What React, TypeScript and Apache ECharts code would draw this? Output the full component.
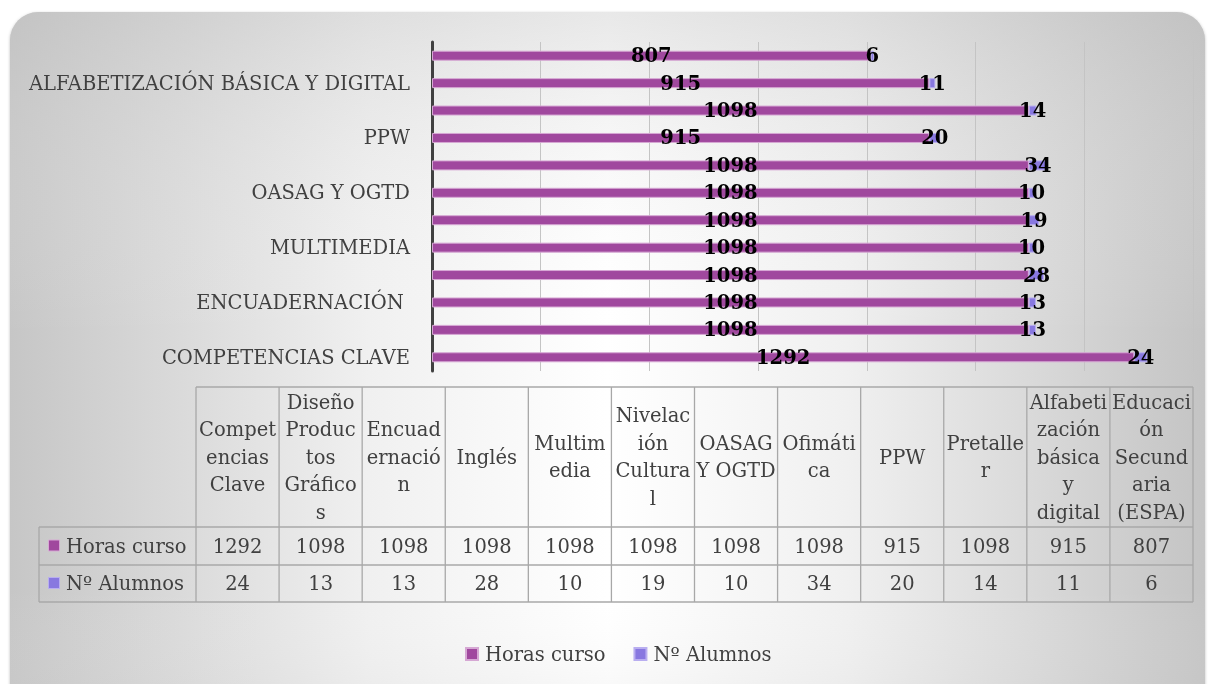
import React, { useEffect, useRef } from "react";
import * as echarts from "echarts";

// ---------- data ----------
const categories = [
  "Competencias Clave",
  "Diseño Productos Gráficos",
  "Encuadernación ",
  "Inglés",
  "Multimedia",
  "Nivelación Cultural",
  "OASAG Y OGTD",
  "Ofimática",
  "PPW",
  "Pretaller",
  "Alfabetización básica y digital",
  "Educación Secundaria (ESPA)",
];
// header labels of the data table, as wrapped in the picture
const tableHeaders = [
  "Compet\nencias\nClave",
  "Diseño\nProduc\ntos\nGráfico\ns",
  "Encuad\nernació\nn",
  "Inglés",
  "Multim\nedia",
  "Nivelac\nión\nCultura\nl",
  "OASAG\nY OGTD",
  "Ofimáti\nca",
  "PPW",
  "Pretalle\nr",
  "Alfabeti\nzación\nbásica\ny\ndigital",
  "Educaci\nón\nSecund\naria\n(ESPA)",
];
const horasCurso = [1292, 1098, 1098, 1098, 1098, 1098, 1098, 1098, 915, 1098, 915, 807];
const numAlumnos = [24, 13, 13, 28, 10, 19, 10, 34, 20, 14, 11, 6];
const seriesNames = ["Horas curso", "Nº Alumnos"];
const xMin = 0;
const xMax = 1400;
const xInterval = 200;

// ---------- style ----------
const FONT = '"DejaVu Serif", serif';
const TEXT = "#404040";
const C_HORAS = "#A0489E";
const C_HORAS_B = "#D6A8D4";
const C_ALUM = "#8878E0";
const C_ALUM_B = "#B9AEF0";
const FS = 19.5;

export default function App() {
  const ref = useRef<HTMLDivElement>(null);

  useEffect(() => {
    if (!ref.current) return;
    const chart = echarts.init(ref.current, undefined, { renderer: "svg" });

    const W = 1211;
    const tableLeft = 196;
    const tableRight = 1193;
    const headerTop = 387;
    const headerBottom = 527;
    const row1Bottom = 565;
    const row2Bottom = 602;
    const labelLeft = 39;
    const colW = (tableRight - tableLeft) / categories.length;
    const lineColor = "#a8a8a8";

    const graphic: any[] = [];
    // background
    graphic.push({
      type: "rect",
      z: -20,
      silent: true,
      shape: { x: 10, y: 12, width: 1195, height: 720, r: 28 },
      style: {
        fill: new echarts.graphic.LinearGradient(0, 0, 1, 0, [
          { offset: 0, color: "#c6c6c6" },
          { offset: 0.3, color: "#f0f0f0" },
          { offset: 0.5, color: "#ffffff" },
          { offset: 0.7, color: "#f0f0f0" },
          { offset: 1, color: "#c4c4c4" },
        ]),
        shadowColor: "rgba(0,0,0,0.25)",
        shadowBlur: 3,
        shadowOffsetY: 1,
      },
    });
    graphic.push({
      type: "rect",
      z: -19,
      silent: true,
      shape: { x: 10, y: 12, width: 1195, height: 720, r: 28 },
      style: {
        fill: new echarts.graphic.LinearGradient(0, 0, 0, 1, [
          { offset: 0, color: "rgba(190,190,190,0.35)" },
          { offset: 0.45, color: "rgba(255,255,255,0)" },
          { offset: 0.8, color: "rgba(255,255,255,0)" },
          { offset: 1, color: "rgba(190,190,190,0.2)" },
        ]),
      },
    });

    // table lines
    const hLine = (y: number, x1: number, x2: number) =>
      graphic.push({
        type: "line",
        silent: true,
        shape: { x1, y1: y, x2, y2: y },
        style: { stroke: lineColor, lineWidth: 1.3 },
      });
    const vLine = (x: number, y1: number, y2: number) =>
      graphic.push({
        type: "line",
        silent: true,
        shape: { x1: x, y1, x2: x, y2 },
        style: { stroke: lineColor, lineWidth: 1.3 },
      });
    hLine(headerTop, tableLeft, tableRight);
    hLine(headerBottom, labelLeft, tableRight);
    hLine(row1Bottom, labelLeft, tableRight);
    hLine(row2Bottom, labelLeft, tableRight);
    for (let i = 0; i <= categories.length; i++) {
      vLine(tableLeft + i * colW, headerTop, row2Bottom);
    }
    vLine(labelLeft, headerBottom, row2Bottom);

    // header texts
    tableHeaders.forEach((h, i) => {
      graphic.push({
        type: "text",
        silent: true,
        x: tableLeft + (i + 0.5) * colW,
        y: (headerTop + headerBottom) / 2,
        style: {
          text: h,
          fill: TEXT,
          fontSize: FS,
          fontFamily: FONT,
          align: "center",
          verticalAlign: "middle",
          lineHeight: 27.5,
        },
      });
    });
    const rows = [
      { name: seriesNames[0], values: horasCurso, color: C_HORAS, border: C_HORAS_B, y1: headerBottom, y2: row1Bottom },
      { name: seriesNames[1], values: numAlumnos, color: C_ALUM, border: C_ALUM_B, y1: row1Bottom, y2: row2Bottom },
    ];
    rows.forEach((r) => {
      const cy = (r.y1 + r.y2) / 2;
      graphic.push({
        type: "rect",
        silent: true,
        shape: { x: 48.5, y: cy - 6, width: 11, height: 11 },
        style: { fill: r.color, stroke: r.border, lineWidth: 1 },
      });
      graphic.push({
        type: "text",
        silent: true,
        x: 66,
        y: cy,
        style: {
          text: r.name,
          fill: TEXT,
          fontSize: FS,
          fontFamily: FONT,
          align: "left",
          verticalAlign: "middle",
        },
      });
      r.values.forEach((v, i) => {
        graphic.push({
          type: "text",
          silent: true,
          x: tableLeft + (i + 0.5) * colW,
          y: cy,
          style: {
            text: String(v),
            fill: TEXT,
            fontSize: FS,
            fontFamily: FONT,
            align: "center",
            verticalAlign: "middle",
          },
        });
      });
    });

    const barLabel = {
      show: true,
      position: "inside",
      color: "#000",
      fontWeight: "bold",
      fontSize: 19.5,
      fontFamily: FONT,
      textBorderWidth: 0,
      textBorderColor: "transparent",
    };

    chart.setOption({
      animation: false,
      graphic,
      grid: { left: 432, right: W - 1193, top: 42, height: 329, containLabel: false },
      xAxis: {
        type: "value",
        min: xMin,
        max: xMax,
        interval: xInterval,
        axisLabel: { show: false },
        axisLine: { show: false },
        axisTick: { show: false },
        splitLine: { show: true, lineStyle: { color: "#c4c4c4", width: 1 } },
      },
      yAxis: {
        type: "category",
        data: categories,
        axisTick: { show: false },
        axisLine: { show: true, lineStyle: { color: "#404040", width: 3 } },
        axisLabel: {
          interval: 1,
          margin: 22,
          color: TEXT,
          fontSize: FS,
          fontFamily: FONT,
          formatter: (v: string) => v.toUpperCase(),
        },
      },
      legend: {
        data: seriesNames,
        left: 460,
        top: 639,
        itemWidth: 12,
        itemHeight: 12,
        itemGap: 28,
        icon: "rect",
        textStyle: { color: TEXT, fontSize: FS, fontFamily: FONT, padding: [0, 0, 0, 2] },
      },
      series: [
        {
          name: seriesNames[0],
          type: "bar",
          stack: "total",
          data: horasCurso,
          barWidth: 10,
          itemStyle: { color: C_HORAS, borderColor: C_HORAS_B, borderWidth: 1 },
          label: barLabel,
        },
        {
          name: seriesNames[1],
          type: "bar",
          stack: "total",
          data: numAlumnos,
          barWidth: 10,
          itemStyle: { color: C_ALUM, borderColor: C_ALUM_B, borderWidth: 1 },
          label: barLabel,
        },
      ],
    });

    return () => chart.dispose();
  }, []);

  return (
    <div
      ref={ref}
      style={{ position: "fixed", left: 0, top: 0, width: 1211, height: 684 }}
    />
  );
}
